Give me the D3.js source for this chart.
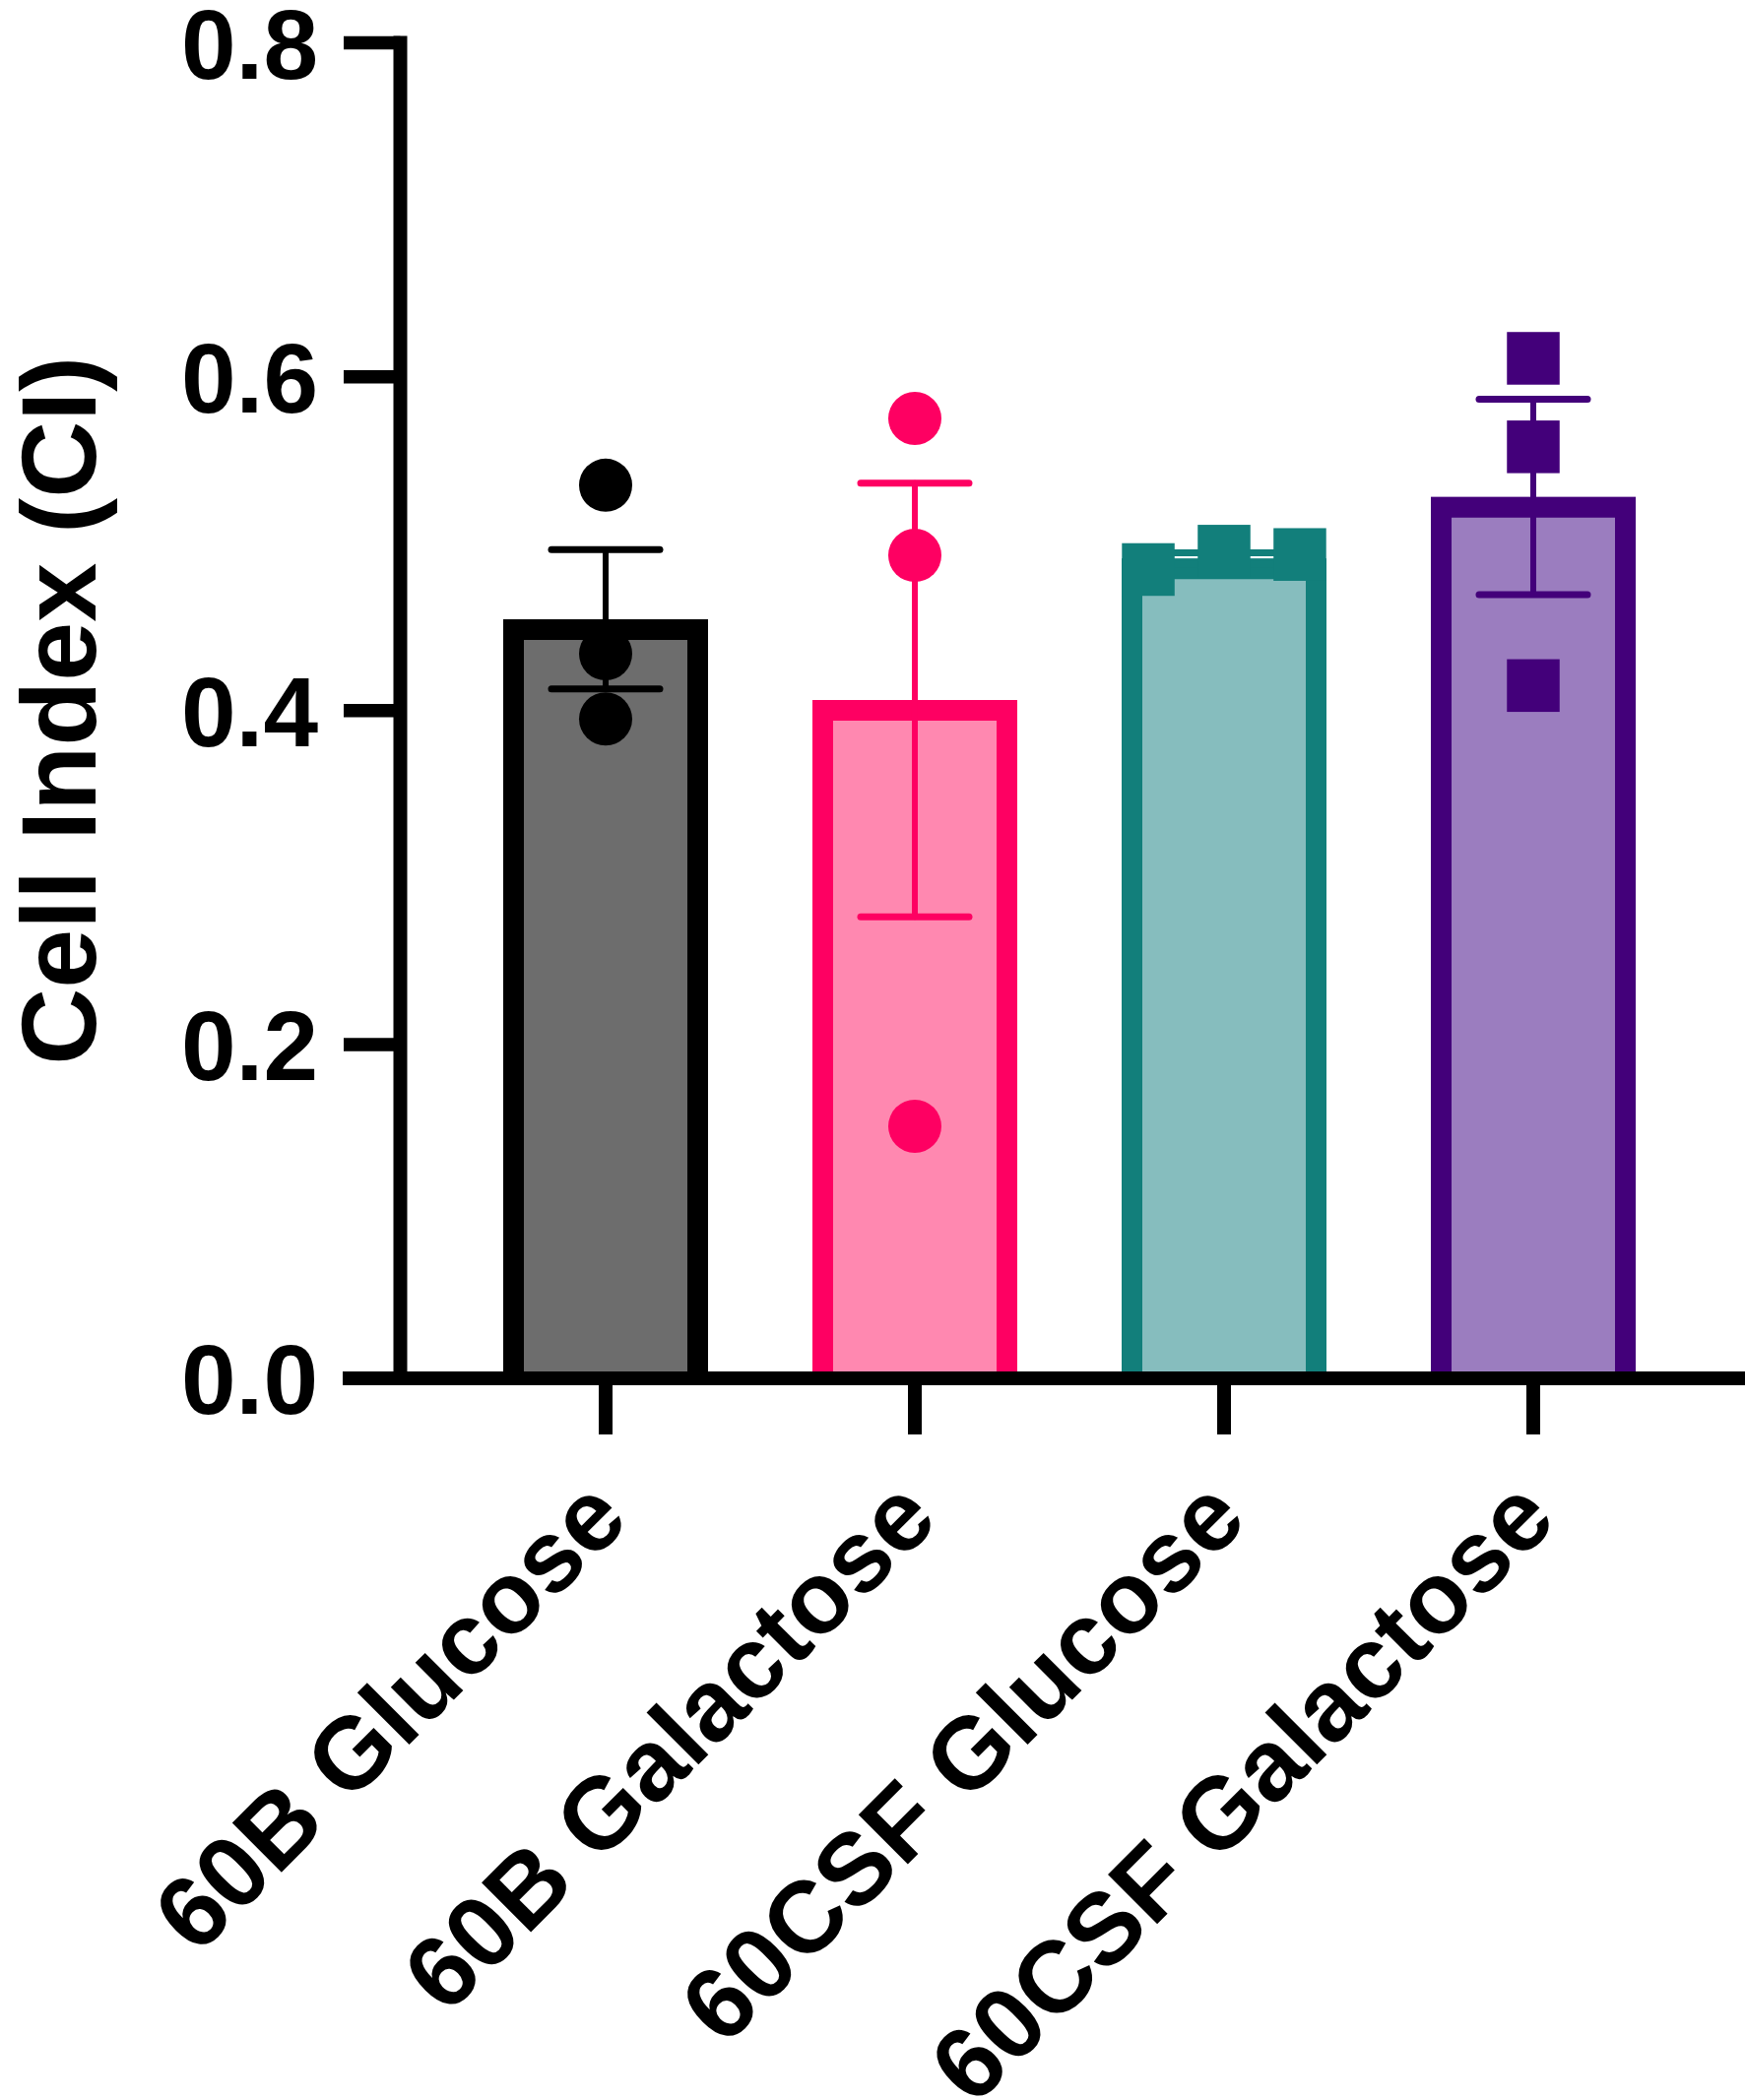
<!DOCTYPE html>
<html>
<head>
<meta charset="utf-8">
<script src="https://cdn.jsdelivr.net/npm/d3@7"></script>
<style>
  body { margin: 0; background: #fff; }
  svg { display: block; }
  text { font-family: "Liberation Sans", Arial, Helvetica, sans-serif; font-weight: bold; fill: #000; }
</style>
</head>
<body>
<script>
// groups on the x axis
var categories = ['60B Glucose', '60B Galactose', '60CSF Glucose', '60CSF Galactose'];

// individual replicates (Cell Index) per group
var glucose60B = [0.535, 0.434, 0.395];
var galactose60B = [0.575, 0.493, 0.151];
var glucose60CSF = [0.4845, 0.4955, 0.4935];
var galactose60CSF = [0.611, 0.558, 0.415];

var yTicks = [0, 0.2, 0.4, 0.6, 0.8];

var strokeColors = ['#000000', '#fe0062', '#127f7b', '#43007a'];
var fillColors = ['#6d6d6d', '#ff88b0', '#86bdbe', '#9b7dbf'];
var markers = ['circle', 'circle', 'square', 'square'];

var groups = [glucose60B, galactose60B, glucose60CSF, galactose60CSF];

var width = 1772,
    height = 2133,
    axisX = 406.5,
    barStroke = 21,
    dotR = 27,
    square = 53.5,
    capHalf = 55;

var svg = d3.select('body')
    .append('svg')
    .attr('width', width)
    .attr('height', height);

var y = d3.scaleLinear()
    .domain([0, 0.8])
    .range([1400, 43.5]);

var x = d3.scaleBand()
    .domain(categories)
    .range([axisX, 1765.5])
    .paddingInner(0.3376)
    .paddingOuter(0.3328);

var bw = x.bandwidth();

var rows = categories.map(function(c, i) {
    var vals = groups[i];
    var m = d3.mean(vals);
    var sem = d3.deviation(vals) / Math.sqrt(vals.length);
    return { cat: c, vals: vals, mean: m, sem: sem, i: i };
});

// bars: fill + open-bottom border
var bars = svg.append('g');

bars.selectAll('rect')
    .data(rows)
    .enter()
    .append('rect')
    .attr('x', function(d) { return x(d.cat); })
    .attr('y', function(d) { return y(d.mean); })
    .attr('width', bw)
    .attr('height', function(d) { return y(0) - y(d.mean); })
    .attr('fill', function(d) { return fillColors[d.i]; });

bars.selectAll('path')
    .data(rows)
    .enter()
    .append('path')
    .attr('d', function(d) {
        var l = x(d.cat) + barStroke / 2,
            r = x(d.cat) + bw - barStroke / 2,
            t = y(d.mean) + barStroke / 2;
        return 'M' + l + ',' + y(0) + 'V' + t + 'H' + r + 'V' + y(0);
    })
    .attr('fill', 'none')
    .attr('stroke', function(d) { return strokeColors[d.i]; })
    .attr('stroke-width', barStroke)
    .attr('stroke-linejoin', 'miter');

// error bars (mean +/- SEM)
var err = svg.append('g')
    .attr('stroke-linecap', 'round');

err.selectAll('line.stem')
    .data(rows)
    .enter()
    .append('line')
    .attr('class', 'stem')
    .attr('x1', function(d) { return x(d.cat) + bw / 2; })
    .attr('x2', function(d) { return x(d.cat) + bw / 2; })
    .attr('y1', function(d) { return y(d.mean - d.sem); })
    .attr('y2', function(d) { return y(d.mean + d.sem); })
    .attr('stroke', function(d) { return strokeColors[d.i]; })
    .attr('stroke-width', 6);

[1, -1].forEach(function(s) {
    err.selectAll('line.cap' + (s > 0 ? 'up' : 'dn'))
        .data(rows)
        .enter()
        .append('line')
        .attr('x1', function(d) { return x(d.cat) + bw / 2 - capHalf; })
        .attr('x2', function(d) { return x(d.cat) + bw / 2 + capHalf; })
        .attr('y1', function(d) { return y(d.mean + s * d.sem); })
        .attr('y2', function(d) { return y(d.mean + s * d.sem); })
        .attr('stroke', function(d) { return strokeColors[d.i]; })
        .attr('stroke-width', 7);
});

// points: spread sideways when they would overlap
var points = [];
rows.forEach(function(d) {
    var py = d.vals.map(function(v) { return y(v); }).sort(d3.ascending);
    var crowded = false;
    for (var k = 1; k < py.length; k++) {
        if (py[k] - py[k - 1] < square) crowded = true;
    }
    d.vals.forEach(function(v, j) {
        var off = crowded ? (j - (d.vals.length - 1) / 2) * bw * 0.37 : 0;
        points.push({ cx: x(d.cat) + bw / 2 + off, cy: y(v), i: d.i });
    });
});

var pts = svg.append('g');

pts.selectAll('circle')
    .data(points.filter(function(p) { return markers[p.i] === 'circle'; }))
    .enter()
    .append('circle')
    .attr('cx', function(p) { return p.cx; })
    .attr('cy', function(p) { return p.cy; })
    .attr('r', dotR)
    .attr('fill', function(p) { return strokeColors[p.i]; });

pts.selectAll('rect')
    .data(points.filter(function(p) { return markers[p.i] === 'square'; }))
    .enter()
    .append('rect')
    .attr('x', function(p) { return p.cx - square / 2; })
    .attr('y', function(p) { return p.cy - square / 2; })
    .attr('width', square)
    .attr('height', square)
    .attr('fill', function(p) { return strokeColors[p.i]; });

// y axis
var yAxis = svg.append('g')
    .attr('transform', 'translate(' + axisX + ',0)')
    .call(d3.axisLeft(y)
        .tickValues(yTicks)
        .tickFormat(d3.format('.1f'))
        .tickSize(57.5)
        .tickSizeOuter(0)
        .tickPadding(26)
        .offset(0));

yAxis.select('.domain')
    .attr('stroke', '#000')
    .attr('stroke-width', 14)
    .attr('stroke-linecap', 'square');

yAxis.selectAll('.tick line')
    .attr('stroke', '#000')
    .attr('stroke-width', 13.5);

yAxis.selectAll('.tick text')
    .attr('dy', '0.36em')
    .style('font-size', '100px');

// x axis
var xAxis = svg.append('g')
    .attr('transform', 'translate(0,' + y(0) + ')')
    .call(d3.axisBottom(x)
        .tickSize(57)
        .tickSizeOuter(0)
        .offset(0));

xAxis.select('.domain').remove();

xAxis.append('line')
    .attr('x1', 348)
    .attr('x2', width)
    .attr('stroke', '#000')
    .attr('stroke-width', 14);

xAxis.selectAll('.tick line')
    .attr('stroke', '#000')
    .attr('stroke-width', 14);

xAxis.selectAll('.tick text')
    .attr('x', 0)
    .attr('y', 0)
    .attr('dy', '0.36em')
    .attr('transform', 'translate(0,120) rotate(-45)')
    .attr('text-anchor', 'end')
    .style('font-size', '103px');

// y title
svg.append('text')
    .attr('transform', 'translate(97,' + y(0.4) + ') rotate(-90)')
    .attr('text-anchor', 'middle')
    .style('font-size', '108px')
    .text('Cell Index (CI)');
</script>
</body>
</html>
